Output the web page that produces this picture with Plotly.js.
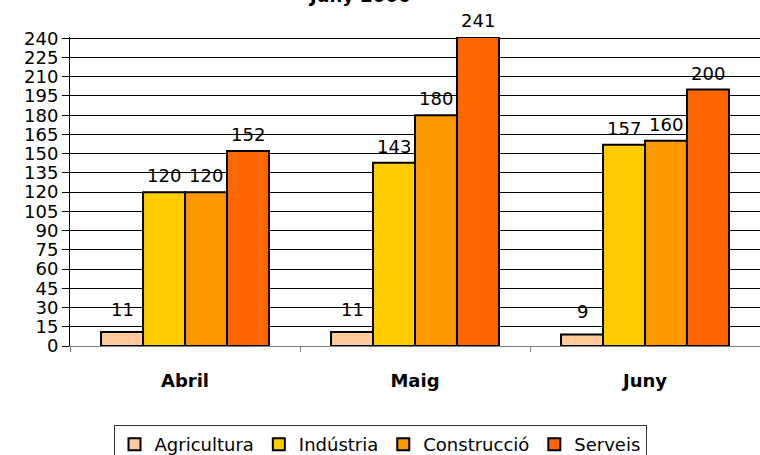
<!DOCTYPE html>
<html>
<head>
<meta charset="utf-8">
<script src="https://cdn.plot.ly/plotly-3.0.1.min.js"></script>
<style>html,body{margin:0;padding:0;background:#fff;}#chart{width:760px;height:455px;}</style>
</head>
<body>
<div id="chart"></div>
<script>
const months = ['Abril', 'Maig', 'Juny'];
const seriesNames = ['Agricultura', 'Indústria', 'Construcció', 'Serveis'];
const agricultura = [11, 11, 9];
const industria = [120, 143, 157];
const construccio = [120, 180, 160];
const serveis = [152, 241, 200];
const yTicks = [0, 15, 30, 45, 60, 75, 90, 105, 120, 135, 150, 165, 180, 195, 210, 225, 240];
const chartTitle = 'Juny 2006';

const colors = ['#FFCC99', '#FFCC00', '#FF9900', '#FF6600'];
const allSeries = [agricultura, industria, construccio, serveis];
const bargap = 0.27;
const bw = (1 - bargap) / 4;
const FONT = 'DejaVu Sans';

const traces = allSeries.map((vals, i) => ({
  type: 'bar',
  name: seriesNames[i],
  x: months,
  y: vals,
  cliponaxis: false,
  marker: {color: colors[i], line: {color: '#000', width: 2}},
  hoverinfo: 'none'
}));

const annotations = [];
allSeries.forEach((vals, i) => {
  vals.forEach((v, j) => {
    annotations.push({
      xref: 'x', yref: 'y',
      x: j + (i - 1.5) * bw, y: v,
      text: String(v), showarrow: false,
      yanchor: 'bottom', yshift: i === 0 ? 10 : 4,
      font: {family: FONT, size: 18, color: '#000'}
    });
  });
});
// chart title, mostly above the top edge as in the reference
annotations.push({
  xref: 'paper', yref: 'paper', x: (359 - 70) / 690, y: 1,
  xanchor: 'center', yanchor: 'bottom', yshift: 29,
  text: '<b>' + chartTitle + '</b>', showarrow: false,
  font: {family: FONT, size: 18, color: '#000'}
});

const layout = {
  width: 760, height: 455,
  margin: {l: 70, r: 0, t: 37, b: 109},
  paper_bgcolor: '#fff', plot_bgcolor: '#fff',
  barmode: 'group', bargap: bargap, bargroupgap: 0,
  font: {family: FONT, size: 18, color: '#000'},
  xaxis: {
    type: 'category',
    showline: true, linecolor: '#808080', linewidth: 1,
    ticks: 'outside', tickson: 'boundaries', ticklen: 5, tickcolor: '#808080',
    tickfont: {family: FONT, size: 18, color: '#000'},
    tickvals: months, ticktext: months.map(m => '<b>' + m + '</b>'),
    ticklabelstandoff: 18,
    showgrid: false, zeroline: false, fixedrange: true
  },
  yaxis: {
    range: [0, 241], tickvals: yTicks, ticktext: yTicks.map(String),
    showline: true, linecolor: '#000', linewidth: 1,
    ticks: 'outside', ticklen: 7, tickcolor: '#000',
    tickfont: {family: FONT, size: 18, color: '#000'},
    showgrid: true, gridcolor: '#000', gridwidth: 1,
    zeroline: false, fixedrange: true
  },
  showlegend: true,
  legend: {
    orientation: 'h', xref: 'container', yref: 'container',
    x: 0.5, xanchor: 'center', y: 1 - 425 / 455, yanchor: 'top',
    bordercolor: '#333', borderwidth: 1, bgcolor: '#fff',
    font: {family: FONT, size: 18, color: '#000'},
    itemwidth: 30, traceorder: 'normal'
  },
  annotations: annotations
};

Plotly.newPlot('chart', traces, layout, {staticPlot: true, displayModeBar: false});
</script>
</body>
</html>
